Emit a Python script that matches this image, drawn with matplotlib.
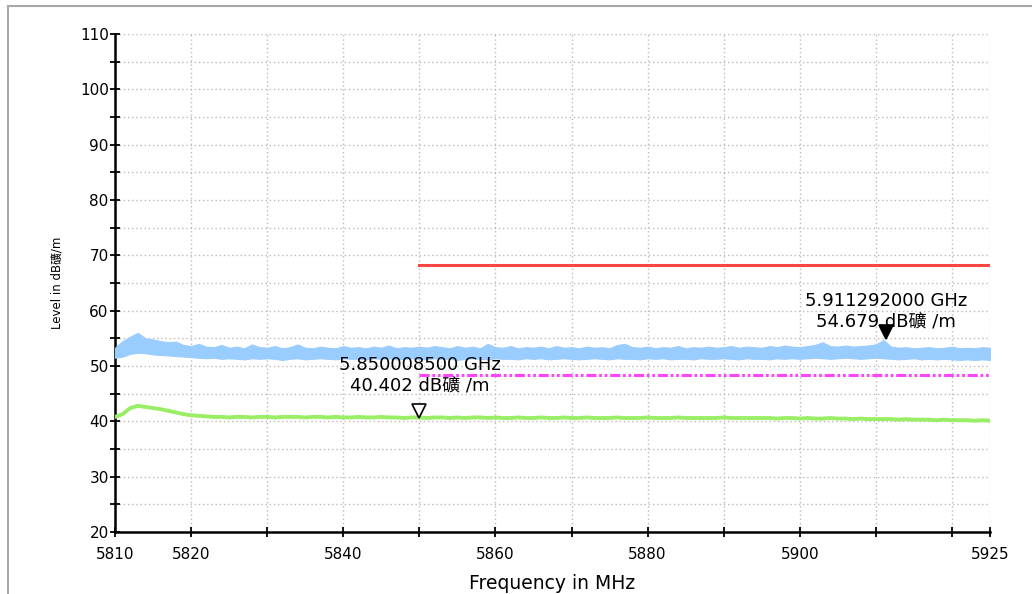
#!/usr/bin/env python

import numpy as np
import matplotlib
matplotlib.use('Agg')
from matplotlib import pyplot as plt
from matplotlib import transforms
from matplotlib.patches import Rectangle

plt.rcParams['font.family'] = ['DejaVu Sans', 'Noto Sans CJK SC']

# measured trace, 1 MHz steps from 5810 to 5925 MHz
freq = np.arange(5810, 5926, 1)

peak_upper = [53.3, 54.5, 55.3, 56.0, 55.0, 54.8, 54.5, 54.3, 54.4, 53.8,
              53.6, 54.0, 53.5, 53.4, 53.8, 53.3, 53.5, 53.2, 53.9, 53.4,
              53.3, 53.6, 53.2, 53.4, 53.9, 53.3, 53.2, 53.5, 53.3, 53.2,
              53.6, 53.3, 53.4, 53.2, 53.5, 53.3, 53.7, 53.2, 53.4, 53.3,
              53.5, 53.3, 53.6, 53.4, 53.2, 53.6, 53.3, 53.5, 53.2, 54.0,
              53.4, 53.3, 53.6, 53.2, 53.4, 53.3, 53.5, 53.2, 53.6, 53.3,
              53.4, 53.2, 53.5, 53.3, 53.4, 53.2, 53.8, 54.0, 53.4, 53.3,
              53.5, 53.2, 53.4, 53.3, 53.6, 53.2, 53.4, 53.3, 53.5, 53.3,
              53.4, 53.6, 53.3, 53.5, 53.4, 53.3, 53.6, 53.4, 53.7, 53.5,
              53.4, 53.6, 53.8, 54.3, 53.6, 53.5, 53.7, 53.5, 53.6, 53.7,
              53.9, 54.7, 53.5, 53.3, 53.4, 53.2, 53.3, 53.4, 53.2, 53.3,
              53.5, 53.2, 53.3, 53.2, 53.4, 53.3]

peak_lower = [51.5, 51.7, 52.2, 52.4, 52.3, 52.1, 52.0, 51.9, 51.8, 51.7,
              51.6, 51.5, 51.4, 51.5, 51.3, 51.4, 51.3, 51.2, 51.4, 51.3,
              51.4, 51.3, 51.1, 51.3, 51.4, 51.2, 51.3, 51.4, 51.3, 51.2,
              51.4, 51.3, 51.3, 51.2, 51.4, 51.3, 51.4, 51.2, 51.3, 51.4,
              51.3, 51.2, 51.4, 51.3, 51.3, 51.1, 51.3, 51.4, 51.3, 51.2,
              51.4, 51.3, 51.3, 51.2, 51.4, 51.3, 51.4, 51.2, 51.3, 51.4,
              51.3, 51.2, 51.3, 51.4, 51.3, 51.2, 51.4, 51.3, 51.3, 51.2,
              51.4, 51.3, 51.4, 51.2, 51.3, 51.3, 51.2, 51.4, 51.3, 51.3,
              51.4, 51.3, 51.2, 51.4, 51.3, 51.3, 51.2, 51.4, 51.3, 51.4,
              51.3, 51.4, 51.5, 51.4, 51.3, 51.4, 51.5, 51.4, 51.3, 51.4,
              51.5, 51.4, 51.3, 51.2, 51.3, 51.4, 51.2, 51.3, 51.2, 51.3,
              51.2, 51.1, 51.2, 51.1, 51.2, 51.1]

average = [40.8, 41.3, 42.4, 42.8, 42.6, 42.4, 42.2, 41.9, 41.6, 41.3,
           41.1, 41.0, 40.9, 40.8, 40.8, 40.7, 40.8, 40.8, 40.7, 40.8,
           40.8, 40.7, 40.8, 40.8, 40.8, 40.7, 40.8, 40.8, 40.7, 40.8,
           40.7, 40.7, 40.8, 40.7, 40.7, 40.8, 40.7, 40.7, 40.6, 40.7,
           40.7, 40.6, 40.7, 40.7, 40.6, 40.7, 40.6, 40.7, 40.7, 40.6,
           40.7, 40.6, 40.6, 40.7, 40.6, 40.6, 40.7, 40.6, 40.6, 40.7,
           40.6, 40.6, 40.7, 40.6, 40.6, 40.6, 40.7, 40.6, 40.6, 40.6,
           40.7, 40.6, 40.6, 40.6, 40.7, 40.6, 40.6, 40.6, 40.6, 40.6,
           40.7, 40.6, 40.6, 40.6, 40.6, 40.6, 40.6, 40.5, 40.6, 40.6,
           40.5, 40.6, 40.5, 40.5, 40.6, 40.5, 40.5, 40.4, 40.5, 40.4,
           40.4, 40.4, 40.4, 40.3, 40.4, 40.3, 40.3, 40.3, 40.2, 40.3,
           40.2, 40.2, 40.2, 40.1, 40.2, 40.1]

# limit lines
limit_freq    = [5850, 5925]
limit_peak    = [68.3, 68.3]
limit_average = [48.3, 48.3]

# markers
marker_freq  = [5850.0085, 5911.292]
marker_level = [40.402, 54.679]
marker_fill  = ['white', 'black']
marker_text_offset = [18, 7]

xticks      = [5810, 5820, 5830, 5840, 5850, 5860, 5870, 5880, 5890, 5900,
               5910, 5920, 5925]
xticklabels = ['5810', '5820', '', '5840', '', '5860', '', '5880', '', '5900',
               '', '', '5925']

fig = plt.figure( figsize=(10.32, 5.94), dpi=100 )
ax = fig.add_axes( [115/1032., 1 - 532/594., 875/1032., 498/594.] )

ax.fill_between( freq, peak_lower, peak_upper, color='#99ccff', lw=0.8,
                 edgecolor='#99ccff', zorder=3 )
ax.plot( freq, average, color='#99ee66', lw=2.8, zorder=3 )
ax.plot( limit_freq, limit_peak, color='#ff4444', lw=2.2, zorder=3 )
ax.plot( limit_freq, limit_average, color='#ff44ff', lw=2.2,
         linestyle=(0, (3.3, 0.9, 0.9, 0.9, 0.9, 0.9)), zorder=3 )

up = transforms.offset_copy( ax.transData, fig=fig, x=0, y=6, units='points' )
for f, lvl, fc, off in zip( marker_freq, marker_level, marker_fill, marker_text_offset ):
    ax.plot( [f], [lvl], marker='v', ms=10, mfc=fc, mec='black', mew=1.2,
             linestyle='none', transform=up, zorder=5 )
    ax.annotate( '%.9f GHz\n%.3f dB礦 /m' % (f / 1000., lvl), xy=(f, lvl),
                 xytext=(0, off), textcoords='offset points', ha='center',
                 va='bottom', multialignment='center', fontsize=13,
                 linespacing=1.15, zorder=6 )

ax.set_xlim( 5810, 5925 )
ax.set_ylim( 20, 110 )
ax.set_xticks( xticks )
ax.set_xticklabels( xticklabels )
ax.set_yticks( np.arange(20, 111, 10) )
ax.set_yticks( np.arange(25, 110, 10), minor=True )
ax.tick_params( which='both', direction='inout', length=7, width=1.3,
                labelsize=11, color='black' )
ax.tick_params( axis='y', pad=1 )
ax.tick_params( axis='x', pad=7 )
ax.grid( True, which='both', color='#bbbbbb', linestyle=(0, (1, 2)), lw=1 )
ax.set_axisbelow( True )

for s in ['top', 'right']:
    ax.spines[s].set_visible( False )
for s in ['left', 'bottom']:
    ax.spines[s].set_linewidth( 1.8 )

ax.set_xlabel( 'Frequency in MHz', fontsize=13.5, labelpad=9 )
ax.set_ylabel( 'Level in dB礦/m', fontsize=8.5, labelpad=12 )

fig.add_artist( Rectangle( (8/1032., -0.1), 1.2, 1.1 - 6/594., fill=False,
                           edgecolor='#a8a8a8', lw=1.5, transform=fig.transFigure ) )

plt.savefig( 'out.png', dpi=100 )
